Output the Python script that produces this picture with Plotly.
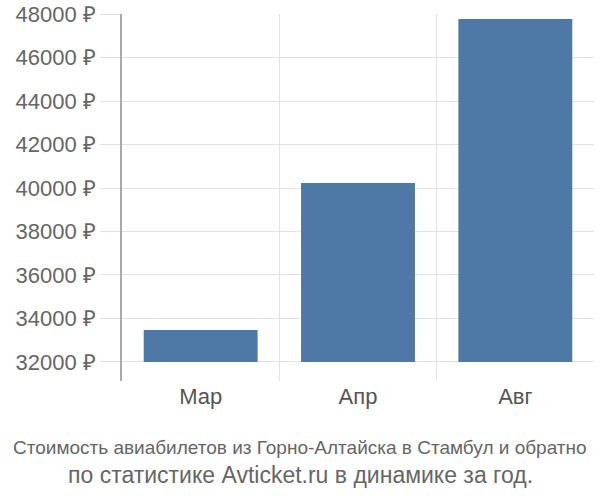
import plotly.graph_objects as go

months = ["Мар", "Апр", "Авг"]
prices = [33470, 40230, 47770]
base_value = 32000
y_ticks = [32000, 34000, 36000, 38000, 40000, 42000, 44000, 46000, 48000]
y_labels = [f"{v} ₽" for v in y_ticks]
title_line1 = "Стоимость авиабилетов из Горно-Алтайска в Стамбул и обратно"
title_line2 = "по статистике Avticket.ru в динамике за год."

xpos = list(range(len(months)))

W, H = 600, 500
L, R, T, B = 122, 6, 14, 119

fig = go.Figure(go.Bar(
    x=xpos,
    y=[p - base_value for p in prices],
    base=base_value,
    width=0.724,
    marker=dict(color="#4e79a7", line=dict(width=0)),
    hoverinfo="skip",
))

plot_h = H - T - B
plot_w = W - L - R

fig.update_layout(
    width=W, height=H,
    margin=dict(l=L, r=R, t=T, b=B, autoexpand=False),
    paper_bgcolor="white", plot_bgcolor="white",
    showlegend=False,
    font=dict(family="Liberation Sans, Arial, sans-serif", size=18, color="#666"),
    xaxis=dict(
        range=[-0.5, len(months) - 0.5],
        tickmode="array", tickvals=xpos, ticktext=months,
        showgrid=False, zeroline=False, showline=False, ticks="",
        tickfont=dict(size=22, color="#555"),
        minor=dict(tickmode="array", tickvals=[i - 0.5 for i in range(len(months) + 1)],
                   showgrid=True, gridcolor="#e3e3e3", gridwidth=1, ticks=""),
    ),
    yaxis=dict(
        range=[31126, 48000],
        tickmode="array", tickvals=y_ticks, ticktext=y_labels,
        showgrid=True, gridcolor="#e3e3e3", gridwidth=1,
        ticks="outside", ticklen=20, tickcolor="#e3e3e3", tickwidth=1,
        showline=True, linecolor="#aaaaaa", linewidth=1.5,
        zeroline=False,
        tickfont=dict(size=22, color="#666"),
    ),
    annotations=[
        dict(text=title_line1, x=(300 - L) / plot_w, xref="paper",
             y=(H - B - 447) / plot_h, yref="paper", showarrow=False,
             xanchor="center", yanchor="middle",
             font=dict(family="Liberation Sans Narrow, Liberation Sans, Arial", size=19, color="#666")),
        dict(text=title_line2, x=(300 - L) / plot_w, xref="paper",
             y=(H - B - 475) / plot_h, yref="paper", showarrow=False,
             xanchor="center", yanchor="middle",
             font=dict(size=23, color="#666")),
    ],
)

fig.write_html("out.html", config={"displayModeBar": False},
               post_script="document.body.style.margin='0';")
